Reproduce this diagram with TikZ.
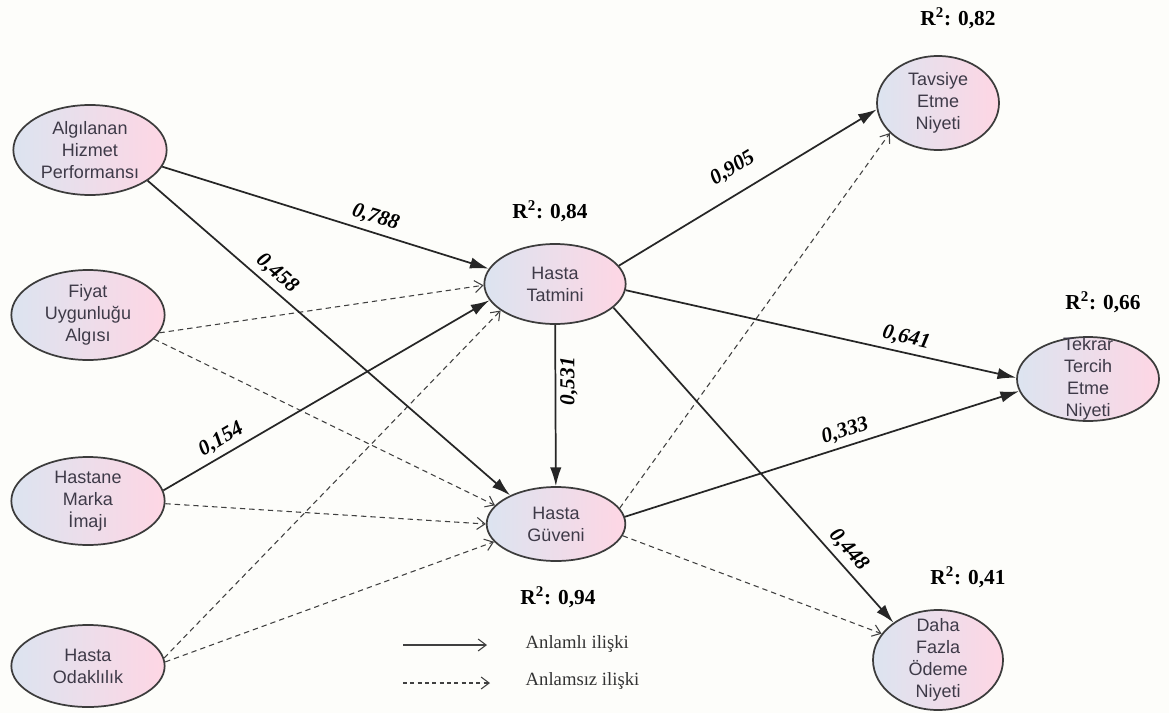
\documentclass[tikz,border=0pt]{standalone}
\usepackage{fontspec}
\setmainfont{Liberation Serif}
\newfontfamily\ellfont{Liberation Sans}
\usetikzlibrary{arrows.meta,shapes.geometric}
\definecolor{bgcol}{RGB}{253,253,250}
\definecolor{leftc}{RGB}{220,228,240}
\definecolor{rightc}{RGB}{254,214,228}
\definecolor{edgecol}{RGB}{60,60,60}
\definecolor{txtcol}{RGB}{62,58,72}
\tikzset{
  latent/.style={ellipse, draw=edgecol, line width=1.3pt, left color=leftc, right color=rightc,
    inner sep=0pt},
  latlbl/.style={align=center, font=\ellfont\fontsize{13.5}{16.5}\selectfont, text=txtcol, inner sep=0pt},
  sig/.style={draw=black!85, line width=1.3pt, -{Latex[length=14pt,width=8.5pt]}},
  nsig/.style={draw=black!75, line width=0.8pt, dash pattern=on 4pt off 3pt, -{Straight Barb[length=6pt,width=9pt,line width=0.8pt]}},
  coeffont/.style={font=\bfseries\itshape\fontsize{16}{16}\selectfont},
  coef/.style={coeffont, sloped, above, inner sep=4pt},
  rsq/.style={font=\bfseries\fontsize{16}{17}\selectfont},
  legtxt/.style={font=\fontsize{14}{15}\selectfont, anchor=west, text=black!80},
}
\begin{document}
\begin{tikzpicture}[x=0.75pt,y=-0.75pt]
\fill[bgcol] (0,0) rectangle (1169,713);
\useasboundingbox (0,0) rectangle (1169,713);

\node[latent, minimum width=115pt, minimum height=67.5pt, label={[latlbl]center:Algılanan\\Hizmet\\Performansı}] (ahp) at (90,150) {};
\node[latent, minimum width=115pt, minimum height=67.5pt, label={[latlbl]center:Fiyat\\Uygunluğu\\Algısı}] (fua) at (88,315) {};
\node[latent, minimum width=115pt, minimum height=66pt, label={[latlbl]center:Hastane\\Marka\\İmajı}] (hmi) at (88,501) {};
\node[latent, minimum width=115pt, minimum height=61.5pt, label={[latlbl]center:Hasta\\Odaklılık}] (ho) at (88,666) {};
\node[latent, minimum width=106pt, minimum height=60pt, label={[latlbl]center:Hasta\\Tatmini}] (tat) at (555,284) {};
\node[latent, minimum width=104pt, minimum height=55.5pt, label={[latlbl]center:Hasta\\Güveni}] (guv) at (556,524) {};
\node[latent, minimum width=91.5pt, minimum height=70.5pt, label={[latlbl]center:Tavsiye\\Etme\\Niyeti}] (tav) at (938,103) {};
\node[latent, minimum width=106.5pt, minimum height=63pt, label={[latlbl]center:Tekrar\\Tercih\\Etme\\Niyeti}] (tek) at (1088,379) {};
\node[latent, minimum width=97.5pt, minimum height=75pt, label={[latlbl]center:Daha\\Fazla\\Ödeme\\Niyeti}] (daha) at (938,660) {};

% R-squared labels
\node[rsq] (r1) at (958,18) {R$^{\mathbf 2}$: 0,82};
\node[rsq] (r2) at (550,211) {R$^{\mathbf 2}$: 0,84};
\node[rsq] (r3) at (1103,302) {R$^{\mathbf 2}$: 0,66};
\node[rsq] (r4) at (558,597) {R$^{\mathbf 2}$: 0,94};
\node[rsq] (r5) at (968,577) {R$^{\mathbf 2}$: 0,41};

% non-significant paths
\draw[nsig] (fua.-14) -- (tat.181);
\draw[nsig] (fua.-20) -- (guv.163);
\draw[nsig] (hmi.-2) -- (guv.180);
\draw[nsig] (ho.6) -- (tat.206);
\draw[nsig] (ho.3) -- (guv.196);
\draw[nsig] (guv.14) -- (tav.212);
\draw[nsig] (guv.-10) -- (daha.155);

% significant paths
\draw[sig] (ahp.-13) -- node[coef, pos=0.64] {0,788} (tat.167);
\draw[sig] (ahp.-28) -- node[coef, pos=0.33] {0,458} (guv.148);
\draw[sig] (hmi.8) -- node[coef, pos=0.2] {0,154} (tat.194);
\draw[sig] (tat) -- node[coeffont, rotate=90, below, pos=0.35, inner sep=3pt] {0,531} (guv);
\draw[sig] (tat.16) -- node[coef, pos=0.49, inner sep=11pt] {0,905} (tav.186);
\draw[sig] (tat.-5) -- node[coef, pos=0.71] {0,641} (tek.179);
\draw[sig] (guv.6) -- node[coef, pos=0.57] {0,333} (tek.190);
\draw[sig] (tat.-22) -- node[coef, pos=0.8] {0,448} (daha.140);

% legend
\coordinate (l1a) at (403,645);
\coordinate (l1b) at (487,645);
\coordinate (l2a) at (403,683);
\coordinate (l2b) at (490,683);
\draw[draw=black!75, line width=0.8pt, -{Straight Barb[length=6pt,width=9pt,line width=0.8pt]}] (l1a) -- (l1b);
\draw[draw=black!75, line width=0.8pt, dash pattern=on 3pt off 2.5pt, -{Straight Barb[length=6pt,width=9pt,line width=0.8pt]}] (l2a) -- (l2b);
\node[legtxt] (lt1) at (521,644) {Anlamlı ilişki};
\node[legtxt] (lt2) at (521,681) {Anlamsız ilişki};
\end{tikzpicture}
\end{document}
